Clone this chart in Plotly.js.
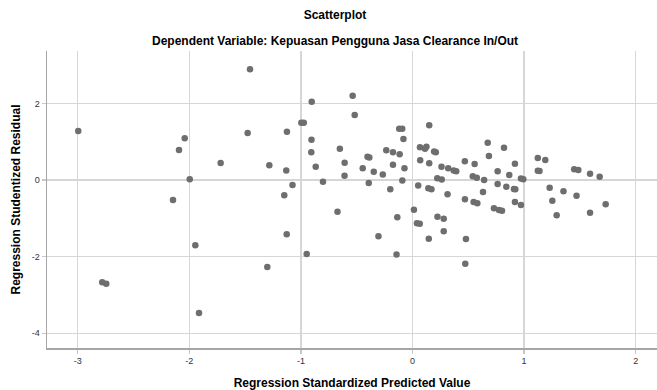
<!DOCTYPE html>
<html>
<head>
<meta charset="utf-8">
<script src="https://cdn.plot.ly/plotly-3.0.1.min.js"></script>
<style>html,body{margin:0;padding:0;background:#fff;}#chart{width:657px;height:390px;}</style>
</head>
<body>
<div id="chart"></div>
<script>
var predicted = [
-2.995,-2.041,-2.092,-1.719,-1.996,-2.146,-1.946,-2.780,-2.744,-1.913,
-1.456,-1.477,-0.903,-0.536,-0.518,-0.996,-0.974,-1.125,-0.905,-0.651,
-0.907,-1.283,-0.867,-1.131,-0.608,-0.609,-0.802,-1.075,-1.149,-0.403,
-0.387,-0.446,-0.347,-0.266,-0.392,-0.235,-0.175,-0.115,-0.175,-0.072,
-0.119,-0.092,-0.081,-0.091,-0.199,0.150,0.067,0.112,0.125,0.194,
0.209,0.069,0.150,0.260,0.320,0.222,0.262,0.051,0.142,0.170,
0.314,-0.672,-0.948,-1.127,-1.301,-0.136,-0.305,-0.143,0.013,0.040,
0.065,0.224,0.280,0.280,0.146,0.369,0.392,0.469,0.557,0.674,
0.685,0.820,0.918,0.763,0.867,0.540,0.576,0.642,0.763,0.841,
0.909,0.921,0.972,0.993,0.632,0.470,0.548,0.581,0.918,0.972,
0.730,0.775,0.802,0.479,0.473,1.123,1.190,1.123,1.138,1.229,
1.353,1.253,1.292,1.470,1.449,1.486,1.591,1.677,1.591,1.731
];
var residual = [
1.278,1.088,0.783,0.444,0.018,-0.522,-1.704,-2.669,-2.705,-3.470,
2.888,1.226,2.043,2.199,1.696,1.495,1.495,1.260,1.049,0.817,
0.723,0.384,0.347,0.248,0.449,0.112,-0.044,-0.130,-0.399,0.605,
0.587,0.305,0.217,0.143,-0.078,0.777,0.725,0.673,0.397,0.305,
1.338,1.338,1.070,-0.013,-0.243,1.430,0.853,0.817,0.866,0.744,
0.725,0.517,0.436,0.344,0.305,0.044,0.013,-0.143,-0.217,-0.243,
-0.370,-0.827,-1.931,-1.417,-2.270,-0.973,-1.469,-1.944,-0.775,-1.130,
-1.140,-0.957,-1.010,-1.338,-1.534,0.248,0.227,0.490,0.417,0.973,
0.626,0.843,0.425,0.227,0.130,0.097,0.060,0.000,-0.104,-0.175,
-0.235,-0.243,0.039,0.021,-0.313,-0.504,-0.574,-0.608,-0.574,-0.652,
-0.738,-0.783,-0.801,-1.539,-2.184,0.574,0.522,0.240,0.235,-0.201,
-0.295,-0.543,-0.918,-0.410,0.282,0.261,0.162,0.086,-0.853,-0.634
];
var xTicks = [-3,-2,-1,0,1,2];
var yTicks = [-4,-2,0,2];
var chartTitle = "Scatterplot";
var chartSubtitle = "Dependent Variable: Kepuasan Pengguna Jasa Clearance In/Out";
var xTitle = "Regression Standardized Predicted Value";
var yTitle = "Regression Studentized Residual";

var font = "Liberation Sans, Arial, sans-serif";
var trace = {
  x: predicted, y: residual, type: "scatter", mode: "markers",
  marker: {color: "#6e6e6e", size: 6.5, line: {width: 0}},
  hoverinfo: "x+y"
};
var axisCommon = {
  showgrid: true, gridcolor: "#d6d6d6", gridwidth: 1.5,
  zeroline: false, showline: true, linecolor: "#a6a6a6", linewidth: 1.5,
  ticks: "outside", ticklen: 4, tickcolor: "#c8c8c8", tickwidth: 1.5,
  tickfont: {family: font, size: 9, color: "#333"}
};
var layout = {
  width: 657, height: 390,
  margin: {l: 47, r: 0, t: 51, b: 42},
  paper_bgcolor: "#fff", plot_bgcolor: "#fff",
  showlegend: false,
  title: {text: "<b>" + chartTitle + "</b>", font: {family: font, size: 12, color: "#000"},
          x: 335/657, xanchor: "center", xref: "container", y: 1 - 15/390, yanchor: "middle", yref: "container"},
  xaxis: Object.assign({}, axisCommon, {
    range: [-3.275, 2.191], tickvals: xTicks, ticktext: xTicks.map(String),
    title: {text: "<b>" + xTitle + "</b>", font: {family: font, size: 12, color: "#000"}, standoff: 13}
  }),
  yaxis: Object.assign({}, axisCommon, {
    range: [-4.383, 3.366], tickvals: yTicks, ticktext: yTicks.map(String),
    title: {text: "<b>" + yTitle + "</b>", font: {family: font, size: 12, color: "#000"}, standoff: 8}
  }),
  annotations: [{
    text: "<b>" + chartSubtitle + "</b>", xref: "paper", yref: "paper",
    x: (335 - 47) / 610, y: (348 - 41) / 297, xanchor: "center", yanchor: "middle",
    showarrow: false, font: {family: font, size: 12, color: "#000"}
  }]
};
Plotly.newPlot("chart", [trace], layout, {displayModeBar: false, staticPlot: true});
</script>
</body>
</html>
